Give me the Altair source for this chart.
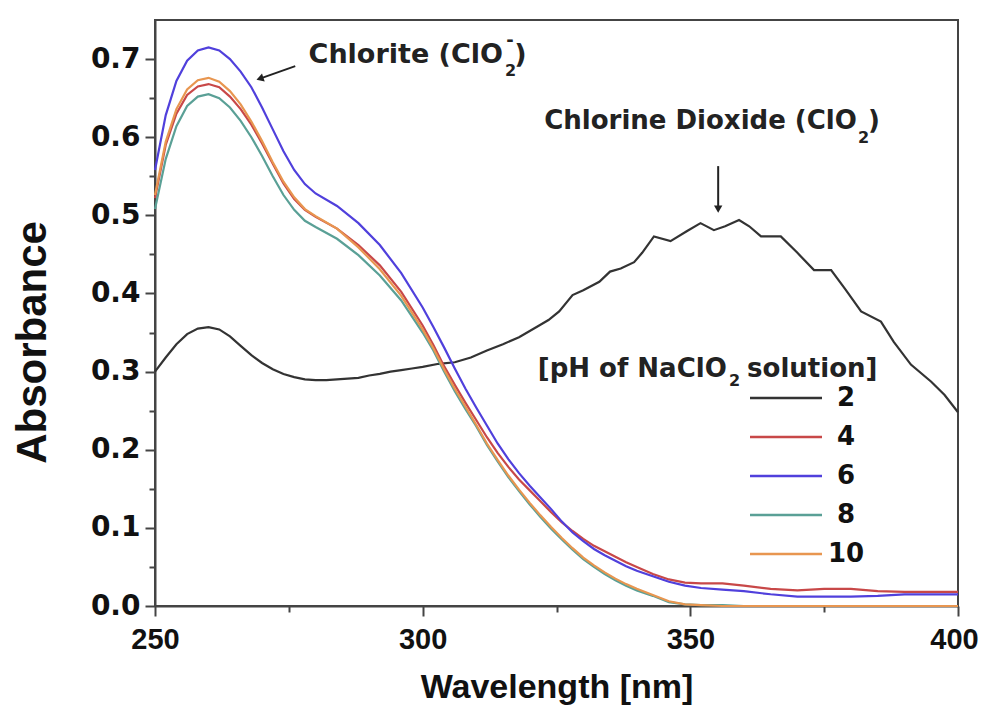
import altair as alt
import pandas as pd

# ---------------- data ----------------
series_ph = ["2", "4", "6", "8", "10"]
series_colors = ["#333333", "#c84848", "#5040dc", "#5aa096", "#e89650"]

grid_wl = [250, 252, 254, 256, 258, 260, 262, 264, 266, 268, 270, 272, 274, 276, 278, 280,
           284, 288, 292, 296,
           300, 302, 304, 306, 308, 310, 312, 314, 316, 318, 320, 322, 324, 326, 328, 330,
           332, 334, 336, 338, 340,
           343, 346, 349, 352, 356, 360, 365, 370, 375, 380, 385, 390, 395, 400]

abs_ph6 = [0.558, 0.628, 0.672, 0.698, 0.711, 0.715, 0.711, 0.700, 0.684, 0.664, 0.638, 0.610, 0.582, 0.558, 0.540, 0.528,
           0.512, 0.490, 0.462, 0.426,
           0.382, 0.357, 0.331, 0.304, 0.278, 0.254, 0.231, 0.208, 0.188, 0.170, 0.154, 0.139, 0.124, 0.108, 0.094, 0.083,
           0.073, 0.065, 0.058, 0.051, 0.045,
           0.038, 0.031, 0.026, 0.023, 0.021, 0.019, 0.015, 0.012, 0.012, 0.012, 0.013, 0.015, 0.015, 0.015]

abs_ph4 = [0.522, 0.590, 0.630, 0.654, 0.665, 0.668, 0.664, 0.652, 0.636, 0.616, 0.592, 0.566, 0.541, 0.521, 0.507, 0.498,
           0.483, 0.462, 0.436, 0.402,
           0.359, 0.334, 0.307, 0.283, 0.260, 0.238, 0.216, 0.196, 0.178, 0.162, 0.148, 0.134, 0.120, 0.107, 0.096, 0.086,
           0.077, 0.070, 0.063, 0.056, 0.050,
           0.041, 0.034, 0.030, 0.029, 0.029, 0.026, 0.022, 0.020, 0.022, 0.022, 0.019, 0.018, 0.018, 0.018]

abs_ph10 = [0.526, 0.594, 0.636, 0.661, 0.673, 0.676, 0.671, 0.659, 0.642, 0.620, 0.595, 0.568, 0.543, 0.523, 0.508, 0.499,
            0.483, 0.459, 0.431, 0.397,
            0.354, 0.330, 0.303, 0.278, 0.255, 0.232, 0.208, 0.187, 0.167, 0.149, 0.132, 0.116, 0.101, 0.087, 0.074, 0.062,
            0.052, 0.043, 0.035, 0.028, 0.022,
            0.014, 0.006, 0.002, 0.001, 0.000, 0.000, 0.000, 0.000, 0.000, 0.000, 0.000, 0.000, 0.000, 0.000]

abs_ph8 = [0.508, 0.572, 0.614, 0.640, 0.652, 0.655, 0.650, 0.638, 0.621, 0.600, 0.576, 0.550, 0.526, 0.507, 0.493, 0.485,
           0.470, 0.449, 0.423, 0.391,
           0.350, 0.327, 0.300, 0.275, 0.252, 0.230, 0.206, 0.185, 0.165, 0.147, 0.130, 0.114, 0.099, 0.085, 0.072, 0.060,
           0.050, 0.041, 0.033, 0.026, 0.020,
           0.013, 0.005, 0.002, 0.001, 0.001, 0.000]

ph2_wl = [250, 252, 254, 256, 258, 260, 262, 264, 266, 268, 270, 272, 274, 276, 278, 280,
          282, 284, 286, 288, 290, 292, 294, 296, 298, 300,
          303, 306, 309, 312, 315, 318, 320, 322, 323.5, 325.5, 328, 330,
          333, 335, 337, 339.5, 341, 343.2, 346.3, 349.4, 351.9, 354.4, 356.5, 359.1,
          361, 363.2, 366.9, 370, 373.1, 376.3, 379, 381.9, 385.6, 388, 391.2, 395, 397.5, 400]
abs_ph2 = [0.300, 0.318, 0.335, 0.348, 0.355, 0.357, 0.354, 0.345, 0.333, 0.321, 0.311, 0.303, 0.297, 0.293, 0.290, 0.289,
           0.289, 0.290, 0.291, 0.292, 0.295, 0.297, 0.300, 0.302, 0.304, 0.306,
           0.310, 0.312, 0.318, 0.327, 0.335, 0.344, 0.352, 0.360, 0.366, 0.377, 0.398, 0.404,
           0.415, 0.428, 0.432, 0.440, 0.452, 0.473, 0.467, 0.480, 0.490, 0.481, 0.486, 0.494,
           0.486, 0.473, 0.473, 0.452, 0.430, 0.430, 0.405, 0.377, 0.364, 0.338, 0.309, 0.287, 0.270, 0.248]

x_tick_values = [250, 275, 300, 325, 350, 375, 400]
y_tick_values = [0.0, 0.05, 0.1, 0.15, 0.2, 0.25, 0.3, 0.35, 0.4, 0.45, 0.5, 0.55, 0.6, 0.65, 0.7]

# ---------------- table ----------------
rows = []
for w, a in zip(ph2_wl, abs_ph2):
    rows.append({"wl": w, "abs": a, "pH": "2"})
for name, vals in [("4", abs_ph4), ("8", abs_ph8), ("10", abs_ph10), ("6", abs_ph6)]:
    for w, a in zip(grid_wl, vals):
        rows.append({"wl": w, "abs": a, "pH": name})
df = pd.DataFrame(rows)

SANS = "Liberation Sans"
WIDE = "DejaVu Sans"
INK = "#111111"

x_scale = alt.Scale(domain=[250, 400], nice=False, zero=False)
y_scale = alt.Scale(domain=[0, 0.75], nice=False)

x_axis = alt.Axis(
    values=x_tick_values,
    labelExpr="datum.value % 50 === 0 ? datum.label : ''",
    tickSize={"condition": {"test": "datum.value % 50 === 0", "value": 10}, "value": 6},
    labelOffset={"condition": {"test": "datum.value === 400", "value": -4}, "value": 0},
    tickWidth=2, tickColor="#444444", domainColor="#444444", domainWidth=2,
    labelFont=SANS, labelFontSize=29, labelFontWeight="bold", labelColor=INK,
    labelPadding=9, labelFlush=False, labelOverlap=False, grid=False,
    titleFont=SANS, titleFontSize=34, titleFontWeight="bold", titleColor=INK,
    titlePadding=16,
)
y_axis = alt.Axis(
    values=y_tick_values,
    format=".1f",
    labelExpr="abs(datum.value * 10 - round(datum.value * 10)) < 0.001 ? datum.label : ''",
    tickSize={"condition": {"test": "abs(datum.value * 10 - round(datum.value * 10)) < 0.001", "value": 10}, "value": 6},
    tickWidth=2, tickColor="#444444", domainColor="#444444", domainWidth=2,
    labelFont=WIDE, labelFontSize=28, labelFontWeight="bold", labelColor=INK,
    labelPadding=5, labelOverlap=False, grid=False,
    titleFont=SANS, titleFontSize=42, titleFontWeight="bold", titleColor=INK,
    titlePadding=36, titleY=322,
)

lines = alt.Chart(df).mark_line(strokeWidth=2.2).encode(
    x=alt.X("wl:Q", scale=x_scale, axis=x_axis, title="Wavelength [nm]"),
    y=alt.Y("abs:Q", scale=y_scale, axis=y_axis, title="Absorbance"),
    color=alt.Color(
        "pH:N",
        scale=alt.Scale(domain=series_ph, range=series_colors),
        legend=alt.Legend(
            title=None, orient="none", legendX=645, legendY=365, padding=0,
            symbolType="M-7,0H1", symbolSize=324, symbolStrokeWidth=2.5,
            labelFont=WIDE, labelFontSize=26, labelFontWeight="bold", labelColor=INK,
            labelAlign="center", labelOffset=20, rowPadding=13,
        ),
    ),
    order=alt.Order("wl:Q"),
)

one = pd.DataFrame({"k": [0]})


def note(text, x, y, align, size=26):
    return alt.Chart(one).mark_text(
        align=align, baseline="alphabetic", font=WIDE, fontSize=size, fontWeight="bold", color="#222222"
    ).encode(x=alt.datum(x), y=alt.datum(y), text=alt.value(text))


notes = (
    # Chlorite (ClO2-)
    note("Chlorite (ClO", 315.0, 0.6948, "right", 27)
    + note("2", 315.4, 0.6782, "left", 16)
    + note("-", 315.6, 0.7165, "left", 18)
    + note(")", 317.1, 0.6948, "left", 27)
    # Chlorine Dioxide (ClO2)
    + note("Chlorine Dioxide (ClO", 381.1, 0.6105, "right")
    + note("2", 381.3, 0.5926, "left", 16)
    + note(")", 383.2, 0.6105, "left")
    # legend heading [pH of NaClO2 solution]
    + note("[pH of NaClO", 356.8, 0.2937, "right")
    + note("2", 357.2, 0.2810, "left", 16)
    + note("solution]", 360.6, 0.2937, "left")
)

arrow1 = alt.Chart(one).mark_rule(color="#222222", strokeWidth=2).encode(
    x=alt.datum(276.2), y=alt.datum(0.691), x2=alt.datum(270.0), y2=alt.datum(0.676)
)
head1 = alt.Chart(one).mark_point(shape="triangle-up", filled=True, size=70, angle=251,
                                  color="#222222", opacity=1).encode(
    x=alt.datum(269.6), y=alt.datum(0.675)
)
arrow2 = alt.Chart(one).mark_rule(color="#222222", strokeWidth=2).encode(
    x=alt.datum(355.2), y=alt.datum(0.563), y2=alt.datum(0.512)
)
head2 = alt.Chart(one).mark_point(shape="triangle-down", filled=True, size=70,
                                  color="#222222", opacity=1).encode(
    x=alt.datum(355.2), y=alt.datum(0.508)
)

chart = alt.layer(lines, notes, arrow1, head1, arrow2, head2).properties(
    width=803, height=586,
    padding={"left": 147, "top": 12, "right": 21, "bottom": 100},
    autosize=alt.AutoSizeParams(type="none"),
    background="white",
).configure_view(stroke="#444444", strokeWidth=2)

chart.save("out.html", embed_options={"renderer": "svg", "actions": False})
